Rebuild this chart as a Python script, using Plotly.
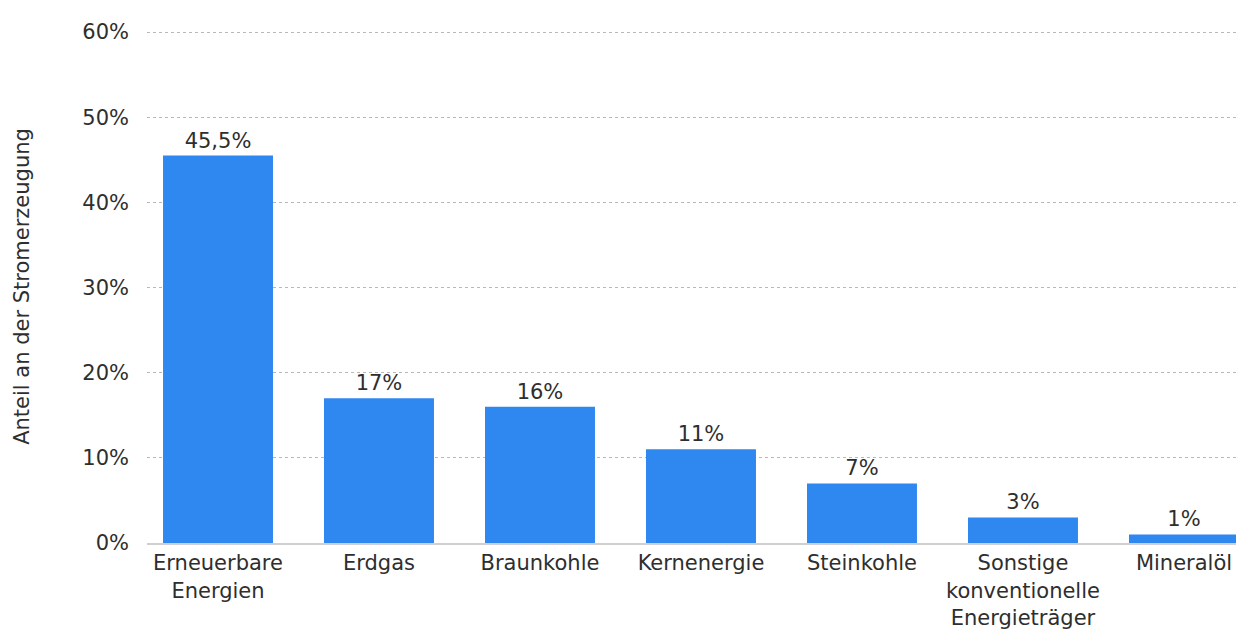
import plotly.graph_objects as go

categories = ["Erneuerbare<br>Energien", "Erdgas", "Braunkohle", "Kernenergie",
              "Steinkohle", "Sonstige<br>konventionelle<br>Energieträger", "Mineralöl"]
values = [45.5, 17, 16, 11, 7, 3, 1]
value_labels = ["45,5%", "17%", "16%", "11%", "7%", "3%", "1%"]
y_ticks = [0, 10, 20, 30, 40, 50, 60]
y_ticklabels = ["0%", "10%", "20%", "30%", "40%", "50%", "60%"]

FONT = "DejaVu Sans"
TXT = "#2e2e2e"

fig = go.Figure(go.Bar(
    x=categories, y=values,
    text=value_labels, textposition="outside", cliponaxis=False,
    textfont=dict(family=FONT, size=21, color=TXT),
    marker=dict(color="#2f87f0", line=dict(width=0)),
    hoverinfo="skip",
))

fig.update_layout(
    width=1244, height=637,
    margin=dict(l=139, r=12, t=22, b=102, autoexpand=False),
    paper_bgcolor="white", plot_bgcolor="white",
    bargap=0.317, showlegend=False,
    font=dict(family=FONT, color=TXT),
)
fig.update_xaxes(
    range=[-0.441, 6.348], showgrid=False, zeroline=False, automargin=False,
    showline=True, linecolor="#d0d0d0", linewidth=2,
    ticks="", tickfont=dict(family=FONT, size=21, color=TXT),
    tickangle=0,
)
fig.update_yaxes(
    range=[0, 60.25], tickvals=y_ticks, ticktext=y_ticklabels, automargin=False,
    showgrid=True, gridcolor="#b8b8b8", griddash="dot", gridwidth=1,
    zeroline=False, showline=False, ticks="",
    ticklabelstandoff=17,
    tickfont=dict(family=FONT, size=21, color=TXT),
    title=dict(text="Anteil an der Stromerzeugung", standoff=46,
               font=dict(family=FONT, size=21, color=TXT)),
)

fig.write_html("out.html")
